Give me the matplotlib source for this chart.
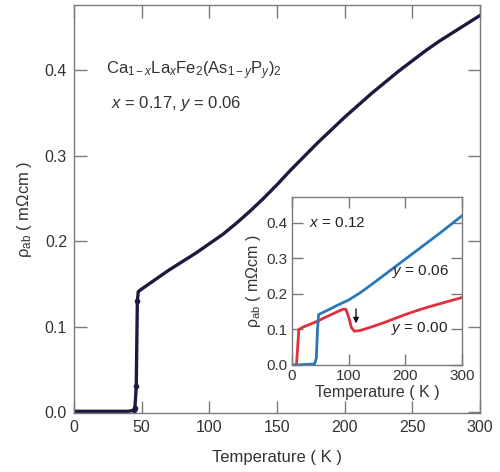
import matplotlib
matplotlib.use("Agg")
import matplotlib.pyplot as plt

plt.rcParams['font.family'] = ['Liberation Sans', 'DejaVu Sans']
plt.rcParams['mathtext.fontset'] = 'custom'
plt.rcParams['mathtext.rm'] = 'Liberation Sans'
plt.rcParams['mathtext.it'] = 'Liberation Sans:italic'
plt.rcParams['mathtext.bf'] = 'Liberation Sans:bold'

# Main curve: x=0.17, y=0.06
main_T = [0, 5, 10, 20, 30, 40, 44, 45, 46, 46.8, 47.5, 50, 60, 70, 80, 90, 100, 110, 120, 130,
          140, 150, 160, 170, 180, 190, 200, 210, 220, 230, 240, 250, 260, 270, 280, 290, 300]
main_rho = [0.001, 0.001, 0.001, 0.001, 0.001, 0.001, 0.002, 0.005, 0.03, 0.13, 0.141, 0.144,
            0.155, 0.166, 0.176, 0.186, 0.197, 0.208, 0.221, 0.235, 0.250, 0.266, 0.283, 0.299,
            0.315, 0.330, 0.345, 0.359, 0.373, 0.386, 0.399, 0.411, 0.423, 0.434, 0.444, 0.454, 0.464]
trans_T = [44, 45, 46, 46.8]
trans_rho = [0.002, 0.005, 0.03, 0.13]

# Inset: x=0.12, y=0.00 (red)
red_T = [5, 8, 10, 12, 20, 40, 60, 80, 90, 95, 100, 105, 110, 120, 140, 160, 180, 200, 220,
         240, 260, 280, 300]
red_rho = [0.0, 0.003, 0.05, 0.1, 0.107, 0.12, 0.135, 0.15, 0.157, 0.157, 0.135, 0.105, 0.095,
           0.097, 0.107, 0.118, 0.13, 0.142, 0.153, 0.163, 0.172, 0.181, 0.19]
# Inset: x=0.12, y=0.06 (blue)
blue_T = [5, 40, 43, 45, 47, 60, 80, 100, 120, 140, 160, 180, 200, 220, 240, 260, 280, 300]
blue_rho = [0.0, 0.003, 0.02, 0.1, 0.142, 0.152, 0.168, 0.183, 0.203, 0.226, 0.25, 0.274,
            0.298, 0.322, 0.346, 0.37, 0.395, 0.42]

main_xticks = [0, 50, 100, 150, 200, 250, 300]
main_yticks = [0.0, 0.1, 0.2, 0.3, 0.4]
inset_xticks = [0, 100, 200, 300]
inset_yticks = [0.0, 0.1, 0.2, 0.3, 0.4]

spine_c = '#7a7a7a'
text_c = '#333333'
navy = '#1b1b3f'
red_c = '#e0303c'
blue_c = '#2b78b8'

fig = plt.figure(figsize=(5.0, 4.72), dpi=100)
ax = fig.add_axes([0.148, 0.125, 0.812, 0.864])
ax.plot(main_T, main_rho, color=navy, lw=2.4, solid_capstyle='round')
ax.plot(trans_T, trans_rho, 'o', color=navy, ms=3)
ax.set_xlim(0, 300)
ax.set_ylim(-0.001, 0.476)
ax.set_xticks(main_xticks)
ax.set_yticks(main_yticks)
ax.set_xticklabels([str(t) for t in main_xticks])
ax.set_yticklabels(['%.1f' % t for t in main_yticks])
ax.tick_params(direction='in', length=9, width=1.0, color=spine_c, labelcolor=text_c,
               labelsize=11.5, top=True, right=True, pad=5)
for s in ax.spines.values():
    s.set_color(spine_c)
    s.set_linewidth(1.0)
ax.set_xlabel('Temperature ( K )', fontsize=12, color=text_c, labelpad=11)
ax.set_ylabel('ρ$_{\\mathrm{ab}}$ ( mΩcm )', fontsize=12, color=text_c, labelpad=8)
ax.text(0.08, 0.84, r'Ca$_{\mathrm{1-}x}$La$_x$Fe$_2$(As$_{\mathrm{1-}y}$P$_y$)$_2$',
        transform=ax.transAxes, fontsize=12, color=text_c, ha='left', va='center')
ax.text(0.09, 0.76, r'$x$ = 0.17, $y$ = 0.06', transform=ax.transAxes, fontsize=12,
        color=text_c, ha='left', va='center')

ins = fig.add_axes([0.584, 0.2267, 0.34, 0.356])
ins.set_facecolor('white')
ins.plot(red_T, red_rho, color=red_c, lw=2.0)
ins.plot(blue_T, blue_rho, color=blue_c, lw=2.0)
ins.set_xlim(0, 300)
ins.set_ylim(0, 0.473)
ins.set_xticks(inset_xticks)
ins.set_yticks(inset_yticks)
ins.set_xticklabels([str(t) for t in inset_xticks])
ins.set_yticklabels(['%.1f' % t for t in inset_yticks])
ins.tick_params(direction='in', length=8, width=1.0, color=spine_c, labelcolor=text_c,
                labelsize=11, top=True, right=True, pad=3)
for s in ins.spines.values():
    s.set_color(spine_c)
    s.set_linewidth(1.0)
ins.set_xlabel('Temperature ( K )', fontsize=11.5, color=text_c, labelpad=1)
ins.set_ylabel('ρ$_{\\mathrm{ab}}$ ( mΩcm )', fontsize=11.5, color=text_c, labelpad=3)
ins.text(30, 0.40, r'$x$ = 0.12', fontsize=11, color='#222222', ha='left', va='center')
ins.text(176, 0.262, r'$y$ = 0.06', fontsize=11, color='#222222', ha='left', va='center')
ins.text(174, 0.104, r'$y$ = 0.00', fontsize=11, color='#222222', ha='left', va='center')
ins.annotate('', xy=(113, 0.117), xytext=(113, 0.158),
             arrowprops=dict(arrowstyle='-|>', color='#111111', lw=1.0,
                             mutation_scale=8, shrinkA=0, shrinkB=0))

fig.savefig('out.png', dpi=100)
